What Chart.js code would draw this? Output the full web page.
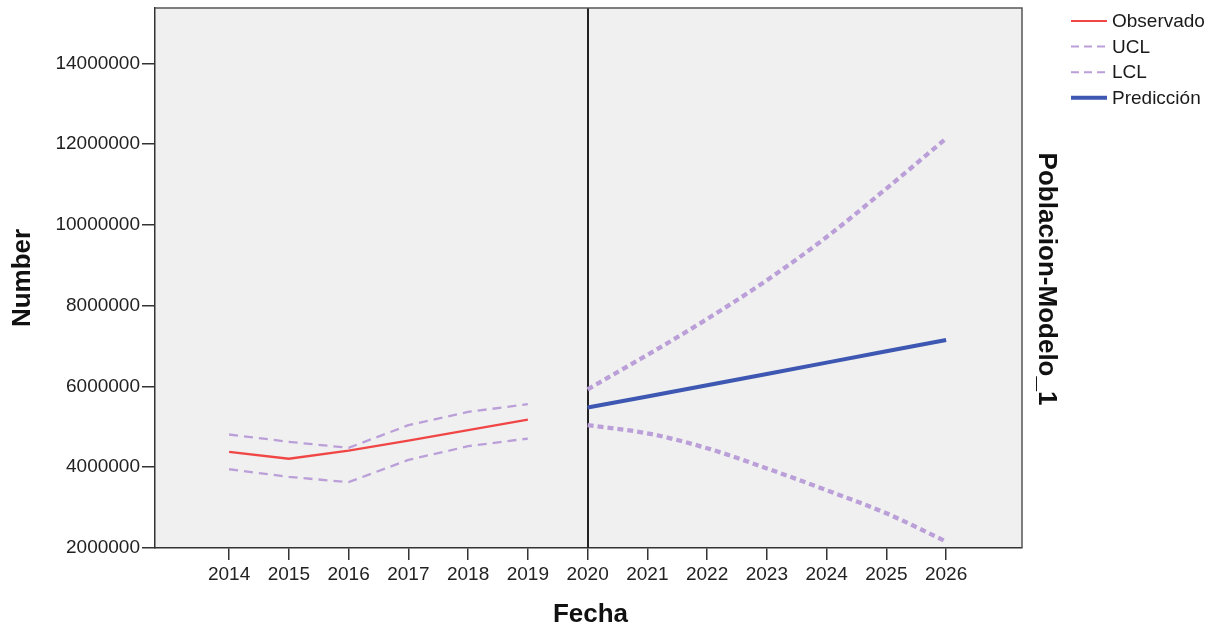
<!DOCTYPE html>
<html>
<head>
<meta charset="utf-8">
<script src="https://cdn.jsdelivr.net/npm/chart.js@4"></script>
<style>
  html, body { margin: 0; padding: 0; background: #ffffff; }
  canvas { display: block; }
</style>
</head>
<body>
<canvas id="chart" width="1222" height="630"></canvas>
<script>
// Observed series (2014-2019)
const obsYears = [2014, 2015, 2016, 2017, 2018, 2019];
const observado = [4380000, 4210000, 4410000, 4660000, 4920000, 5180000];
const obsUCL = [4810000, 4630000, 4480000, 5040000, 5370000, 5560000];
const obsLCL = [3950000, 3760000, 3630000, 4180000, 4520000, 4710000];

// Forecast series (2020-2026)
const fcYears = [2020, 2021, 2022, 2023, 2024, 2025, 2026];
const prediccion = [5480000, 5750000, 6030000, 6310000, 6590000, 6870000, 7150000];
const fcUCL = [5930000, 6780000, 7670000, 8630000, 9700000, 10900000, 12140000];
const fcLCL = [5040000, 4840000, 4470000, 3970000, 3430000, 2860000, 2160000];

// Axis ticks
const yearTicks = [2014, 2015, 2016, 2017, 2018, 2019, 2020, 2021, 2022, 2023, 2024, 2025, 2026];
const valueTicks = [2000000, 4000000, 6000000, 8000000, 10000000, 12000000, 14000000];
const forecastStart = 2020;

const RED = '#f04646';
const LILAC = '#bb9fd8';
const BLUE = '#3d57b2';
const FONT = '"Liberation Sans", Arial, sans-serif';

const pts = (xs, ys) => xs.map((x, i) => ({ x: x, y: ys[i] }));

const legendItems = [
  { label: 'Observado', color: RED, width: 2, dash: [] },
  { label: 'UCL', color: LILAC, width: 2, dash: [8, 5] },
  { label: 'LCL', color: LILAC, width: 2, dash: [8, 5] },
  { label: 'Predicción', color: BLUE, width: 4, dash: [] }
];

const decor = {
  id: 'decor',
  beforeDraw(chart) {
    const { ctx, chartArea: a } = chart;
    ctx.save();
    ctx.fillStyle = '#f0f0f0';
    ctx.fillRect(a.left, a.top, a.right - a.left, a.bottom - a.top);
    ctx.restore();
  },
  beforeDatasetsDraw(chart) {
    const { ctx, chartArea: a, scales } = chart;
    const x = Math.round(scales.x.getPixelForValue(forecastStart));
    ctx.save();
    ctx.strokeStyle = '#222222';
    ctx.lineWidth = 2;
    ctx.beginPath();
    ctx.moveTo(x, a.top);
    ctx.lineTo(x, a.bottom);
    ctx.stroke();
    ctx.restore();
  },
  afterDraw(chart) {
    const { ctx, chartArea: a } = chart;
    ctx.save();
    // frame around the plot area
    ctx.strokeStyle = '#555555';
    ctx.lineWidth = 1.5;
    ctx.beginPath();
    ctx.moveTo(a.left, a.top);
    ctx.lineTo(a.right, a.top);
    ctx.lineTo(a.right, a.bottom);
    ctx.stroke();

    // axis titles
    ctx.fillStyle = '#111111';
    ctx.font = 'bold 26px ' + FONT;
    ctx.textAlign = 'center';
    ctx.textBaseline = 'middle';
    ctx.fillText('Fecha', (a.left + a.right) / 2 + 2, 615);

    ctx.save();
    ctx.translate(23, 278);
    ctx.rotate(-Math.PI / 2);
    ctx.fillText('Number', 0, 0);
    ctx.restore();

    ctx.save();
    ctx.translate(1046, 279);
    ctx.rotate(Math.PI / 2);
    ctx.fillText('Poblacion-Modelo_1', 0, 0);
    ctx.restore();

    // legend
    ctx.font = '19px ' + FONT;
    ctx.textAlign = 'left';
    legendItems.forEach((it, i) => {
      const y = 21 + i * 25.6;
      ctx.strokeStyle = it.color;
      ctx.lineWidth = it.width;
      ctx.setLineDash(it.dash);
      ctx.beginPath();
      ctx.moveTo(1071, y);
      ctx.lineTo(1107, y);
      ctx.stroke();
      ctx.setLineDash([]);
      ctx.fillStyle = '#1a1a1a';
      ctx.fillText(it.label, 1112, y + 1);
    });
    ctx.restore();
  }
};

new Chart(document.getElementById('chart'), {
  type: 'line',
  data: {
    datasets: [
      { label: 'Observado', data: pts(obsYears, observado), borderColor: RED, borderWidth: 2.3 },
      { label: 'UCL', data: pts(obsYears, obsUCL), borderColor: LILAC, borderWidth: 2.3, borderDash: [9, 6] },
      { label: 'LCL', data: pts(obsYears, obsLCL), borderColor: LILAC, borderWidth: 2.3, borderDash: [9, 6] },
      { label: 'UCL', data: pts(fcYears, fcUCL), borderColor: LILAC, borderWidth: 4.3, borderDash: [6, 4], cubicInterpolationMode: 'monotone' },
      { label: 'LCL', data: pts(fcYears, fcLCL), borderColor: LILAC, borderWidth: 4.3, borderDash: [6, 4], cubicInterpolationMode: 'monotone' },
      { label: 'Predicción', data: pts(fcYears, prediccion), borderColor: BLUE, borderWidth: 4 }
    ]
  },
  options: {
    responsive: false,
    animation: false,
    events: [],
    layout: { padding: { top: 8, right: 200, bottom: 0, left: 0 } },
    elements: { point: { radius: 0 }, line: { fill: false, tension: 0 } },
    plugins: { legend: { display: false }, tooltip: { enabled: false } },
    scales: {
      x: {
        type: 'linear',
        min: 2012.76,
        max: 2027.27,
        afterBuildTicks: (s) => { s.ticks = yearTicks.map(v => ({ value: v })); },
        afterFit: (s) => { s.height = 82; s.paddingLeft = 0; s.paddingRight = 0; },
        grid: { drawOnChartArea: false, drawTicks: true, tickLength: 12, color: '#333333', lineWidth: 1.5 },
        border: { display: true, color: '#333333', width: 1.5 },
        ticks: { color: '#222222', font: { family: FONT, size: 19 }, padding: 3, maxRotation: 0, autoSkip: false, callback: (v) => String(v) }
      },
      y: {
        type: 'linear',
        min: 2000000,
        max: 15370000,
        afterBuildTicks: (s) => { s.ticks = valueTicks.map(v => ({ value: v })); },
        afterFit: (s) => { s.width = 155; s.paddingTop = 0; s.paddingBottom = 0; },
        grid: { drawOnChartArea: false, drawTicks: true, tickLength: 13, color: '#333333', lineWidth: 1.5 },
        border: { display: true, color: '#333333', width: 1.5 },
        ticks: { color: '#222222', font: { family: FONT, size: 19 }, padding: 2, autoSkip: false, callback: (v) => String(v) }
      }
    }
  },
  plugins: [decor]
});
</script>
</body>
</html>
